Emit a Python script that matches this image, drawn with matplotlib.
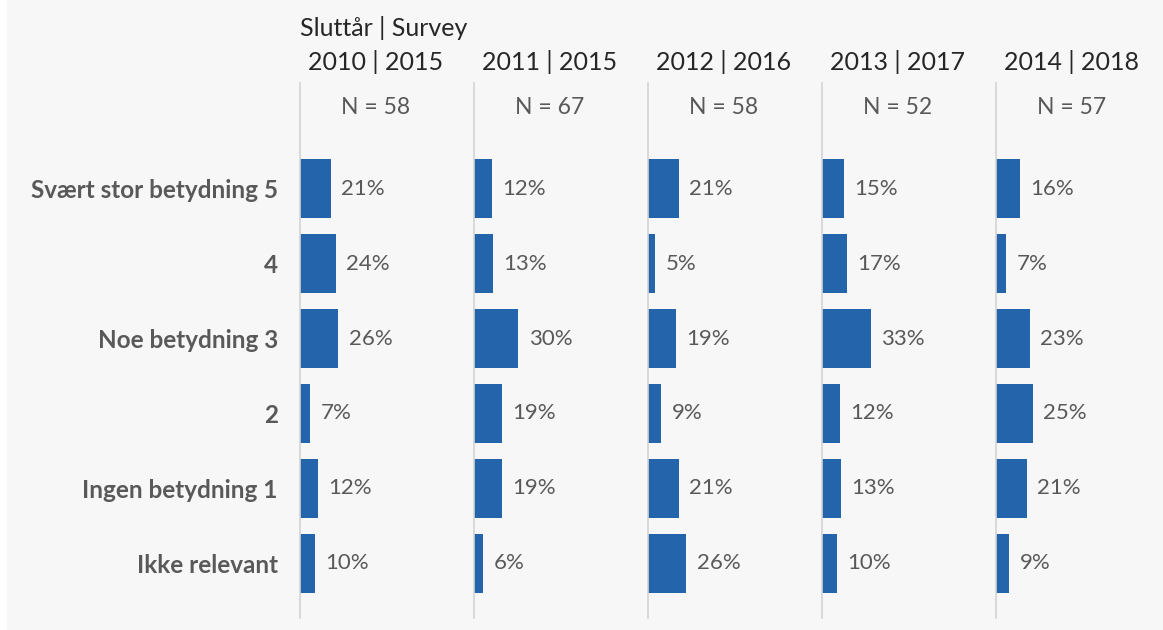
import matplotlib.pyplot as plt

categories = ["Svært stor betydning 5", "4", "Noe betydning 3", "2",
              "Ingen betydning 1", "Ikke relevant"]
panel_titles = ["2010 | 2015", "2011 | 2015", "2012 | 2016",
                "2013 | 2017", "2014 | 2018"]
panel_n = [58, 67, 58, 52, 57]
share_2010 = [21, 24, 26, 7, 12, 10]
share_2011 = [12, 13, 30, 19, 19, 6]
share_2012 = [21, 5, 19, 9, 21, 26]
share_2013 = [15, 17, 33, 12, 13, 10]
share_2014 = [16, 7, 23, 25, 21, 9]
panels = [share_2010, share_2011, share_2012, share_2013, share_2014]

W, H = 1163, 630
BG = "#f7f7f7"
BAR = "#2364aa"
GREY = "#595959"

plt.rcParams['font.family'] = ['Lato', 'DejaVu Sans']

fig = plt.figure(figsize=(W / 100, H / 100), dpi=100, facecolor=BG)
# thin white strip on the left edge like the source image
fig.patches.append(plt.Rectangle((0, 0), 7 / W, 1, transform=fig.transFigure,
                                 facecolor="white", edgecolor="none"))

line_x = [300, 474, 648, 822, 996]
px_per_pct = 1.48
top_px, bot_px = 83, 618

for k, vals in enumerate(panels):
    x0 = line_x[k]
    ax = fig.add_axes([x0 / W, 1 - bot_px / H, 174 / W, (bot_px - top_px) / H])
    ax.set_facecolor("none")
    ypos = range(len(categories))
    ax.barh(ypos, vals, height=0.79, color=BAR)
    ax.set_xlim(0, 174 / px_per_pct)
    ax.set_ylim(5.73, -1.41)
    for s in ["top", "right", "bottom"]:
        ax.spines[s].set_visible(False)
    ax.spines["left"].set_color("#d4d4d4")
    ax.spines["left"].set_linewidth(1.2)
    ax.set_xticks([])
    ax.set_yticks(list(ypos))
    ax.tick_params(axis="y", length=0, pad=16)
    if k == 0:
        ax.set_yticklabels(categories, fontsize=17.5, fontweight="bold", color=GREY)
    else:
        ax.set_yticklabels([])
    for i, v in enumerate(vals):
        ax.annotate(f"{v}%", (v, i), xytext=(7.5, 0), textcoords="offset points",
                    va="center", ha="left", fontsize=16, color=GREY)
    ax.text(76 / 174, 1 - (108 - top_px) / (bot_px - top_px), f"N = {panel_n[k]}",
            transform=ax.transAxes, ha="center", va="center",
            fontsize=16.5, color=GREY)
    fig.text((x0 + 76) / W, 1 - 62 / H, panel_titles[k], ha="center",
             va="center", fontsize=18, color="#262626")

fig.text(300 / W, 1 - 28 / H, "Sluttår | Survey", ha="left", va="center",
         fontsize=18, color="#262626")

fig.savefig("out.png", dpi=100, facecolor=BG)
